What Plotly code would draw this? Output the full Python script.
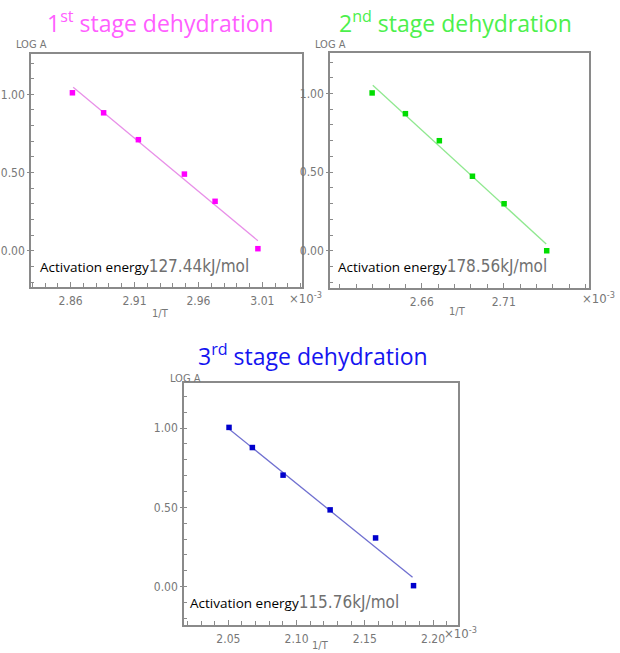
import plotly.graph_objects as go

# ---------------- data ----------------
# Stage 1
x1 = [2.8614, 2.8858, 2.9130, 2.9490, 2.9730, 3.0065]
y1 = [1.010, 0.882, 0.710, 0.490, 0.316, 0.013]
fit1_x = [2.862, 3.0065]
fit1_y = [1.045, 0.064]
# Stage 2
x2 = [2.6297, 2.6500, 2.6707, 2.6909, 2.7102, 2.7362]
y2 = [1.004, 0.872, 0.700, 0.474, 0.299, 0.000]
fit2_x = [2.6301, 2.7359]
fit2_y = [1.053, 0.043]
# Stage 3
x3 = [2.0505, 2.0676, 2.0901, 2.1246, 2.1579, 2.1857]
y3 = [1.004, 0.877, 0.703, 0.484, 0.307, 0.006]
fit3_x = [2.0505, 2.1850]
fit3_y = [0.994, 0.059]

titles = ["1<sup>st</sup> stage dehydration", "2<sup>nd</sup> stage dehydration", "3<sup>rd</sup> stage dehydration"]
energies = ["127.44kJ/mol", "178.56kJ/mol", "115.76kJ/mol"]
x_ticks1 = [2.86, 2.91, 2.96, 3.01]
x_ticks2 = [2.66, 2.71]
x_ticks3 = [2.05, 2.10, 2.15, 2.20]
y_ticks = [0.0, 0.5, 1.0]
y_ticklabels = ["0.00", "0.50", "1.00"]

# ---------------- layout helpers ----------------
W, H = 620, 653
def px(x):
    return x / W
def py(y):
    return 1 - y / H

marker_colors = ["#ff00ff", "#00dd00", "#0000cc"]
line_colors = ["#e890e8", "#90e890", "#7070d0"]
title_colors = ["#ff5eff", "#4cf04c", "#1414f0"]

AX = "#8a8a8a"
NARROW = "Liberation Sans Narrow, DejaVu Sans Condensed, Arial Narrow, sans-serif"
TICKFONT = dict(family=NARROW, size=12, color="#777777")

panels = [
    dict(xs=x1, ys=y1, fx=fit1_x, fy=fit1_y, xt=x_ticks1, xr=[2.829, 3.041], yr=[-0.232, 1.258],
         dom_x=[px(31), px(302)], dom_y=[py(287), py(54)]),
    dict(xs=x2, ys=y2, fx=fit2_x, fy=fit2_y, xt=x_ticks2, xr=[2.604, 2.762], yr=[-0.237, 1.258],
         dom_x=[px(330), px(589)], dom_y=[py(288), py(53)]),
    dict(xs=x3, ys=y3, fx=fit3_x, fy=fit3_y, xt=x_ticks3, xr=[2.0175, 2.2183], yr=[-0.242, 1.284],
         dom_x=[px(184), px(458)], dom_y=[py(625), py(383)]),
]

fig = go.Figure()
layout = dict(width=W, height=H, margin=dict(l=0, r=0, t=0, b=0),
              paper_bgcolor="white", plot_bgcolor="white", showlegend=False)
annotations = []

for i, p in enumerate(panels):
    sfx = "" if i == 0 else str(i + 1)
    fig.add_trace(go.Scatter(x=p["fx"], y=p["fy"], mode="lines",
                             line=dict(color=line_colors[i], width=1.3),
                             xaxis="x" + sfx, yaxis="y" + sfx, hoverinfo="skip"))
    fig.add_trace(go.Scatter(x=p["xs"], y=p["ys"], mode="markers",
                             marker=dict(symbol="square", size=5.5, color=marker_colors[i]),
                             xaxis="x" + sfx, yaxis="y" + sfx))
    layout["xaxis" + sfx] = dict(domain=p["dom_x"], range=p["xr"], anchor="y" + sfx,
                                 showline=True, linecolor=AX, linewidth=1.5, mirror=True,
                                 showgrid=False, zeroline=False,
                                 tickmode="array", tickvals=p["xt"], ticktext=["%.2f" % v for v in p["xt"]],
                                 ticks="inside", ticklen=5, tickcolor=AX, tickwidth=1,
                                 minor=dict(tickmode="linear", tick0=2.0, dtick=0.01, ticks="inside",
                                            ticklen=4, tickcolor=AX, tickwidth=1, showgrid=False),
                                 tickfont=TICKFONT, ticklabelstandoff=2)
    layout["yaxis" + sfx] = dict(domain=p["dom_y"], range=p["yr"], anchor="x" + sfx,
                                 showline=True, linecolor=AX, linewidth=1.5, mirror=True,
                                 showgrid=False, zeroline=False,
                                 tickmode="array", tickvals=y_ticks, ticktext=y_ticklabels,
                                 ticks="outside", ticklen=2, tickcolor=AX, tickwidth=1,
                                 minor=dict(tickmode="linear", tick0=0.0, dtick=0.1, ticks="inside",
                                            ticklen=3, tickcolor=AX, tickwidth=1, showgrid=False),
                                 tickfont=TICKFONT, ticklabelstandoff=0)

# text positions (pixel coords)
title_pos = [(160, 22), (455, 22), (313, 355)]
loga_pos = [(31, 44), (330, 44), (185, 378)]
invt_pos = [(160, 313), (457, 311), (320, 645)]
x10_pos = [(305, 298), (598, 298), (460, 633)]
ae_pos = [(38, 266), (336, 266), (188, 602)]

for i in range(3):
    annotations.append(dict(text=titles[i], x=px(title_pos[i][0]), y=py(title_pos[i][1]),
                            xref="paper", yref="paper", showarrow=False, xanchor="center", yanchor="middle",
                            font=dict(family="Open Sans, sans-serif", size=23, color=title_colors[i])))
    annotations.append(dict(text="LOG A", x=px(loga_pos[i][0]), y=py(loga_pos[i][1]),
                            xref="paper", yref="paper", showarrow=False, xanchor="center", yanchor="middle",
                            font=dict(family=NARROW, size=11, color="#777777")))
    annotations.append(dict(text="1/T", x=px(invt_pos[i][0]), y=py(invt_pos[i][1]),
                            xref="paper", yref="paper", showarrow=False, xanchor="center", yanchor="middle",
                            font=dict(family=NARROW, size=11, color="#777777")))
    annotations.append(dict(text="×10<sup>-3</sup>", x=px(x10_pos[i][0]), y=py(x10_pos[i][1]),
                            xref="paper", yref="paper", showarrow=False, xanchor="center", yanchor="middle",
                            font=dict(family=NARROW, size=13, color="#777777")))
    annotations.append(dict(text="Activation energy<span style='font-family:Liberation Sans Narrow, DejaVu Sans Condensed, sans-serif;font-size:17px;fill:#707070'>" + energies[i] + "</span>",
                            x=px(ae_pos[i][0]), y=py(ae_pos[i][1]),
                            xref="paper", yref="paper", showarrow=False, xanchor="left", yanchor="middle",
                            font=dict(family="Open Sans, sans-serif", size=13.5, color="#000000")))

layout["annotations"] = annotations
fig.update_layout(**layout)
fig.write_html("out.html")
